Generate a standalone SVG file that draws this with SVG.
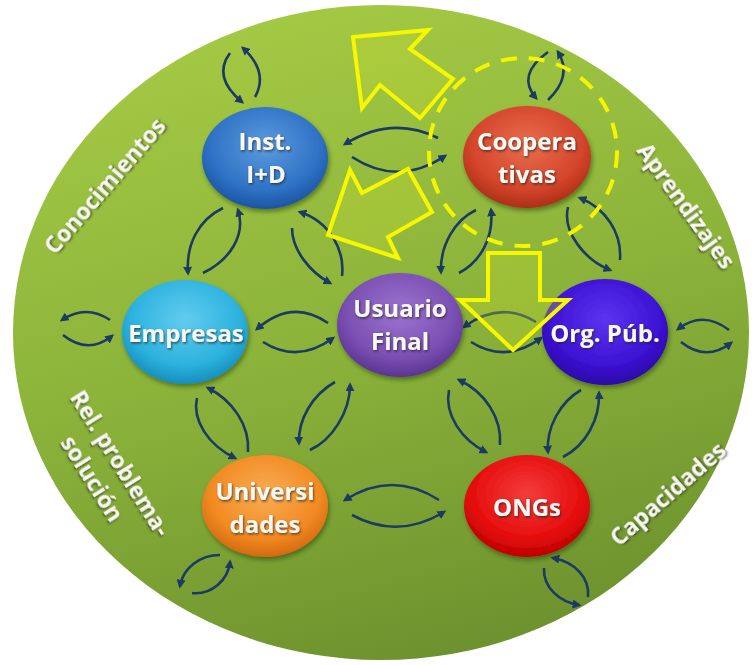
<svg xmlns="http://www.w3.org/2000/svg" width="752" height="665" viewBox="0 0 752 665">
<defs>
<linearGradient id="bg" x1="0.35" y1="0" x2="0.65" y2="1">
<stop offset="0" stop-color="#a4c944"/>
<stop offset="0.5" stop-color="#8bb33a"/>
<stop offset="1" stop-color="#6c902e"/>
</linearGradient>
<radialGradient id="gInst" cx="0.5" cy="0.38" r="0.62"><stop offset="0" stop-color="#5d9be0"/><stop offset="0.7" stop-color="#2f72c4"/><stop offset="1" stop-color="#1c55a2"/></radialGradient>
<radialGradient id="gCoop" cx="0.5" cy="0.38" r="0.62"><stop offset="0" stop-color="#e96e4f"/><stop offset="0.7" stop-color="#d4452b"/><stop offset="1" stop-color="#ac2f18"/></radialGradient>
<radialGradient id="gEmp" cx="0.5" cy="0.38" r="0.62"><stop offset="0" stop-color="#62ccef"/><stop offset="0.7" stop-color="#2cb2de"/><stop offset="1" stop-color="#178ebd"/></radialGradient>
<radialGradient id="gUsu" cx="0.5" cy="0.38" r="0.62"><stop offset="0" stop-color="#9c74cf"/><stop offset="0.7" stop-color="#7a4fb2"/><stop offset="1" stop-color="#5b3492"/></radialGradient>
<radialGradient id="gOrg" cx="0.5" cy="0.38" r="0.62"><stop offset="0" stop-color="#5c34ee"/><stop offset="0.7" stop-color="#3d12d4"/><stop offset="1" stop-color="#2a08a6"/></radialGradient>
<radialGradient id="gUni" cx="0.5" cy="0.38" r="0.62"><stop offset="0" stop-color="#f9ad55"/><stop offset="0.7" stop-color="#f28a22"/><stop offset="1" stop-color="#d46a10"/></radialGradient>
<radialGradient id="gOng" cx="0.5" cy="0.38" r="0.62"><stop offset="0" stop-color="#f43c3c"/><stop offset="0.7" stop-color="#e60e0e"/><stop offset="1" stop-color="#bd0000"/></radialGradient>
<filter id="sh" x="-20%" y="-20%" width="140%" height="150%"><feDropShadow dx="1.5" dy="3" stdDeviation="2" flood-color="#1a2a0a" flood-opacity="0.45"/></filter>
<filter id="tsh" x="-10%" y="-30%" width="120%" height="160%"><feDropShadow dx="1" dy="1.5" stdDeviation="1" flood-color="#202020" flood-opacity="0.7"/></filter>
<marker id="ah" viewBox="0 0 10 10" refX="7" refY="5" markerWidth="9" markerHeight="9" markerUnits="userSpaceOnUse" orient="auto"><path d="M0,0 L10,5 L0,10 z" fill="#1c3a63"/></marker>
</defs>
<style>
.c{fill:none;stroke:#1c3a63;stroke-width:2.6;marker-end:url(#ah)}
.nt{font-family:"Open Sans","Liberation Sans",sans-serif;font-weight:bold;font-size:24px;fill:#f8f8f2;text-anchor:middle;filter:url(#tsh)}
.lb{font-family:"Open Sans","Liberation Sans",sans-serif;font-weight:bold;font-size:23px;fill:#f8f8f2;text-anchor:middle;filter:url(#tsh)}
.ya{fill:#c6dc32;fill-opacity:0.3;stroke:#f7f700;stroke-width:4;stroke-linejoin:miter}
</style>

<ellipse id="background" cx="381" cy="332.5" rx="368" ry="327.5" fill="url(#bg)"/>

<g id="labels">
<text class="lb" transform="translate(105,186) rotate(-49)" y="8">Conocimientos</text>
<text class="lb" transform="translate(686,206) rotate(54)" y="8">Aprendizajes</text>
<text class="lb" transform="translate(668,494) rotate(-41)" y="8">Capacidades</text>
<g transform="translate(106,471) rotate(58)">
<text class="lb" x="1" y="-8">Rel. problema-</text>
<text class="lb" x="-1" y="24">solución</text>
</g>
</g>

<g id="connectors">
<path class="c" d="M230,53 Q212,77 242,102"/>
<path class="c" d="M255,97 Q269,72 243,48"/>
<path class="c" d="M548,52 Q516,75 536,98"/>
<path class="c" d="M548,100 Q573,76 558,52"/>
<path class="c" d="M438,138 Q392,115 345,144"/>
<path class="c" d="M352,157 Q398,187 445,156"/>
<path class="c" d="M223,208 C198,220 186,245 188,273"/>
<path class="c" d="M203,273 C230,260 246,235 238,210"/>
<path class="c" d="M292,228 C292,250 310,272 330,283"/>
<path class="c" d="M342,276 C345,250 330,222 300,212"/>
<path class="c" d="M476,210 C455,220 440,245 441,272"/>
<path class="c" d="M459,273 C480,262 494,238 491,210"/>
<path class="c" d="M568,207 C562,232 585,260 610,270"/>
<path class="c" d="M620,260 C622,232 605,208 580,198"/>
<path class="c" d="M110,320 Q86,304 62,320"/>
<path class="c" d="M63,335 Q88,355 112,336"/>
<path class="c" d="M328,323 Q292,298 257,329"/>
<path class="c" d="M263,342 Q298,364 333,338"/>
<path class="c" d="M536,322 Q500,300 464,327"/>
<path class="c" d="M471,342 Q506,364 541,338"/>
<path class="c" d="M729,330 Q703,310 678,329"/>
<path class="c" d="M681,342 Q706,362 731,343"/>
<path class="c" d="M197,398 C192,420 208,445 235,458"/>
<path class="c" d="M248,452 C250,425 232,400 208,388"/>
<path class="c" d="M335,382 C312,395 298,420 299,443"/>
<path class="c" d="M310,450 C332,440 350,412 350,385"/>
<path class="c" d="M449,390 C444,415 462,440 486,452"/>
<path class="c" d="M500,445 C502,418 485,392 459,380"/>
<path class="c" d="M581,390 C560,402 546,428 548,452"/>
<path class="c" d="M563,457 C585,446 600,420 599,393"/>
<path class="c" d="M439,500 Q392,470 345,500"/>
<path class="c" d="M352,515 Q398,540 444,512"/>
<path class="c" d="M220,555 C200,555 183,568 180,586"/>
<path class="c" d="M192,593 C212,595 228,580 230,562"/>
<path class="c" d="M588,597 C590,578 575,562 553,558"/>
<path class="c" d="M544,568 C543,588 560,602 579,605"/>
</g>

<g id="node-inst" filter="url(#sh)">
<ellipse cx="265" cy="158" rx="63" ry="51" fill="url(#gInst)"/>
<text class="nt" x="265" y="150">Inst.</text>
<text class="nt" x="266" y="183">I+D</text>
</g>
<g id="node-coop" filter="url(#sh)">
<ellipse cx="527" cy="157" rx="64" ry="51" fill="url(#gCoop)"/>
<text class="nt" x="527" y="150">Coopera</text>
<text class="nt" x="527" y="183">tivas</text>
</g>
<g id="node-empresas" filter="url(#sh)">
<ellipse cx="185" cy="332" rx="63" ry="52" fill="url(#gEmp)"/>
<text class="nt" x="186" y="342">Empresas</text>
</g>
<g id="node-usuario" filter="url(#sh)">
<ellipse cx="400" cy="325" rx="63" ry="52" fill="url(#gUsu)"/>
<text class="nt" x="400" y="317">Usuario</text>
<text class="nt" x="400" y="350">Final</text>
</g>
<g id="node-org" filter="url(#sh)">
<ellipse cx="605" cy="332" rx="63" ry="53" fill="url(#gOrg)"/>
<text class="nt" x="605" y="342">Org. Púb.</text>
</g>
<g id="node-univ" filter="url(#sh)">
<ellipse cx="265" cy="506" rx="63" ry="51" fill="url(#gUni)"/>
<text class="nt" x="265" y="500">Universi</text>
<text class="nt" x="265" y="533">dades</text>
</g>
<g id="node-ongs" filter="url(#sh)">
<ellipse cx="527" cy="506" rx="63" ry="51" fill="url(#gOng)"/>
<text class="nt" x="527" y="516">ONGs</text>
</g>

<g id="highlights">
<circle cx="523" cy="152" r="94" fill="none" stroke="#f5f500" stroke-width="4" stroke-dasharray="16 12"/>
<polygon class="ya" points="353,37 428,30 410,49 453,79 420,118 380,85 362,108"/>
<polygon class="ya" points="328,235 350,170 362,193 408,169 432,212 388,237 398,258"/>
<polygon class="ya" points="488,253 540,253 540,300 568,300 513,350 460,300 488,300"/>
</g>
</svg>
